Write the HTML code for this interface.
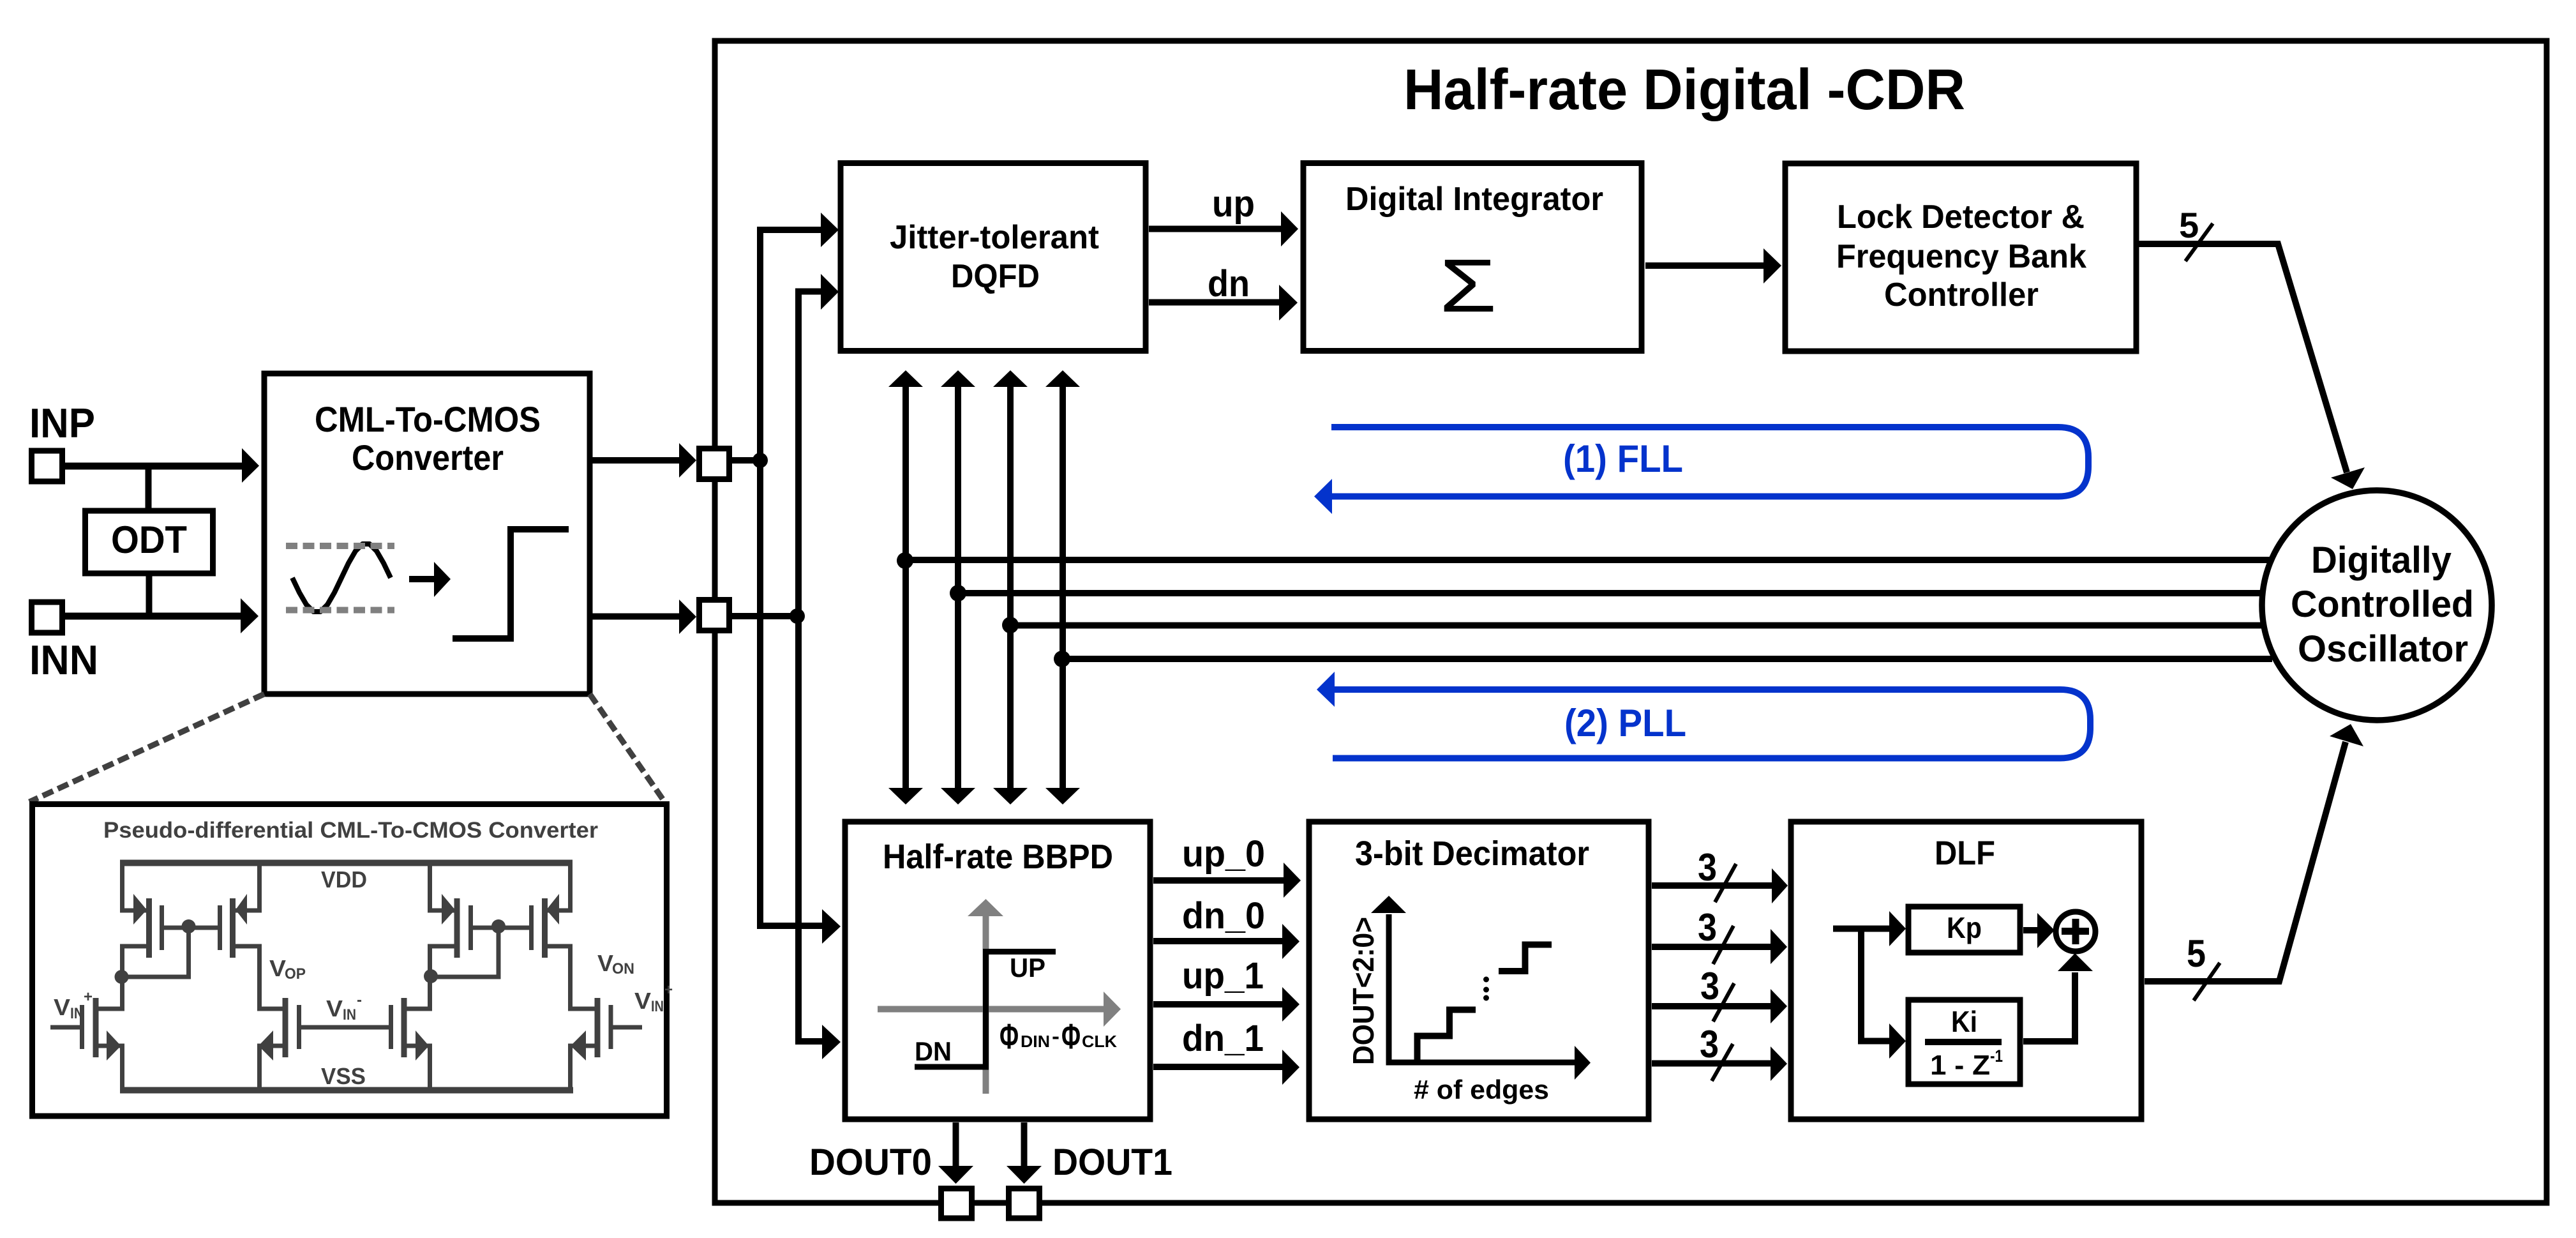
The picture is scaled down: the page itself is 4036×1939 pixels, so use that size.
<!DOCTYPE html>
<html><head><meta charset="utf-8"><style>
html,body{margin:0;padding:0;background:#fff;width:4036px;height:1939px;overflow:hidden}
svg{display:block}
text{font-family:"Liberation Sans",sans-serif;font-weight:bold;fill:#000}
.s text{fill:#404040}
</style></head><body>
<svg xmlns="http://www.w3.org/2000/svg" width="4036" height="1939" viewBox="0 0 4036 1939">
<rect width="4036" height="1939" fill="#fff"/>
<!-- main box -->
<rect x="1120" y="64" width="2870" height="1820" fill="none" stroke="#000" stroke-width="9"/>
<text x="2199" y="171" font-size="90" textLength="880" lengthAdjust="spacingAndGlyphs">Half-rate Digital -CDR</text>

<g fill="none" stroke="#000" stroke-width="9" stroke-linejoin="miter">
<!-- input section -->
<rect x="49.5" y="706" width="48" height="48"/>
<rect x="49.5" y="943" width="48" height="48"/>
<path d="M102 730H380" stroke-width="11"/>
<path d="M102 965H378" stroke-width="11"/>
<path d="M232.500 730V800M233.500 898V965" stroke-width="10"/>
<rect x="133.500" y="800" width="200" height="98"/>
<rect x="414" y="585" width="510" height="502"/>
<path d="M928 721H1066M928 965.500H1066" stroke-width="10"/>
<!-- internal trunks -->
<path d="M1140 721H1191M1140 965H1249" stroke-width="10"/>
<path d="M1288 360H1191V1450H1290" stroke-width="10"/>
<path d="M1288 456.500H1251V1631H1290" stroke-width="10"/>
<!-- blocks -->
<rect x="1317" y="255.500" width="478" height="294"/>
<rect x="2042" y="255.500" width="530" height="294"/>
<rect x="2797" y="256" width="550" height="294"/>
<rect x="1324" y="1287" width="478" height="466"/>
<rect x="2051" y="1287" width="532" height="466"/>
<rect x="2806" y="1287" width="549" height="466"/>
<!-- top arrows -->
<path d="M1800 358.500H2010M1800 473.500H2007" stroke-width="10"/>
<path d="M2578 416H2765" stroke-width="10"/>
<!-- bus -->
<path d="M1419 606V1236M1501 606V1236M1583 606V1236M1665 606V1236" stroke-width="10"/>
<path d="M1418 877H3560M1501 929H3550M1583 979.500H3550M1664 1032H3560" stroke-width="10"/>
<!-- BBPD outputs -->
<path d="M1807 1379H2013M1807 1474H2011M1807 1573H2011M1807 1671H2011" stroke-width="10"/>
<path d="M1497.500 1758V1828M1604.500 1758V1828" stroke-width="10"/>
<!-- decimator outputs -->
<path d="M2588 1387H2778M2588 1483H2776M2588 1576H2776M2588 1665.500H2776" stroke-width="10"/>
<path d="M2720 1353L2687 1413M2716 1450L2684 1510M2717 1540L2684 1600M2715 1635L2682 1693" stroke-width="6"/>
<!-- DLF -->
<path d="M2872 1454.500H2962" stroke-width="10"/>
<path d="M2916 1454.500V1630.500H2962" stroke-width="10"/>
<path d="M3170 1457H3194" stroke-width="10"/>
<path d="M3170 1631H3251V1523" stroke-width="10"/>
<rect x="2990" y="1420" width="175" height="72"/>
<rect x="2990" y="1566" width="175" height="132"/>
<circle cx="3252" cy="1459" r="31"/>
<!-- outputs to DCO -->
<path d="M3351 382H3569L3677 740" stroke-width="10"/>
<path d="M3360 1537H3571L3675 1162" stroke-width="10"/>
<path d="M3467 350L3424 409M3478 1508L3437 1567" stroke-width="6"/>
<!-- DCO -->
<circle cx="3724" cy="948" r="180" fill="#fff" stroke-width="9.500"/>
</g>
<rect x="3016" y="1627" width="120" height="10"/>
<rect x="3246.500" y="1439" width="11" height="40"/>
<rect x="3230" y="1453" width="43" height="11"/>

<!-- wave etc -->
<polyline points="458,905 469,928 480,947 491,958 502,958 513,947 524,928 535,905 546,882 557,863 568,852 579,852 590,863 601,882 612,905" fill="none" stroke="#000" stroke-width="8" stroke-linejoin="round"/>
<path d="M448 855H618M448 955.500H618" fill="none" stroke="#808080" stroke-width="10" stroke-dasharray="18 8.500"/>
<path d="M641 907H682" stroke="#000" stroke-width="10"/>
<path d="M709 1000H800V829H891" fill="none" stroke="#000" stroke-width="10"/>

<!-- arrowheads -->
<g fill="#000">
<polygon points="379,702 406,729.500 379,756"/>
<polygon points="377,937 405,965 377,992"/>
<polygon points="680,880 706,907 680,935"/>
<polygon points="1064,694 1091,721 1064,748"/>
<polygon points="1064,939 1091,966 1064,993"/>
<polygon points="1286,333 1314,360 1286,387"/>
<polygon points="1286,429 1314,457 1286,485"/>
<polygon points="1288,1424 1317,1451 1288,1478"/>
<polygon points="1288,1605 1317,1632 1288,1659"/>
<polygon points="2007,331 2034,358.500 2007,386"/>
<polygon points="2004,446 2033,474 2004,502"/>
<polygon points="2763,389 2791,416 2763,444"/>
<polygon points="1392,606 1419,580 1446,606"/><polygon points="1474,606 1501,580 1528,606"/><polygon points="1556,606 1583,580 1610,606"/><polygon points="1638,606 1665,580 1692,606"/>
<polygon points="1392,1234 1419,1260 1446,1234"/><polygon points="1474,1234 1501,1260 1528,1234"/><polygon points="1556,1234 1583,1260 1610,1234"/><polygon points="1638,1234 1665,1260 1692,1234"/>
<polygon points="2011,1351 2038,1379 2011,1406"/>
<polygon points="2009,1447 2036,1474.500 2009,1502"/>
<polygon points="2009,1546 2036,1573 2009,1600"/>
<polygon points="2009,1644 2036,1671.500 2009,1699"/>
<polygon points="1470,1826 1525,1826 1497.500,1854"/>
<polygon points="1577,1826 1632,1826 1604.500,1854"/>
<polygon points="2776,1360 2801,1387 2776,1415"/>
<polygon points="2774,1455 2800,1483 2774,1510"/>
<polygon points="2774,1549 2800,1576 2774,1603"/>
<polygon points="2774,1639 2800,1666 2774,1693"/>
<polygon points="2960,1427 2986,1454.500 2960,1482"/>
<polygon points="2960,1603 2986,1630.500 2960,1658"/>
<polygon points="3192,1430 3219,1457 3192,1485"/>
<polygon points="3224,1521 3251,1493 3279,1521"/>
<polygon points="3652,748 3686,766 3705,732"/>
<polygon points="3650,1153 3683,1134 3703,1169"/>
</g>

<!-- BBPD graph -->
<path d="M1544.500 1713V1433M1375 1580.500H1731" fill="none" stroke="#808080" stroke-width="10"/>
<polygon points="1516,1435 1544.500,1408 1572,1435" fill="#808080"/>
<polygon points="1729,1553 1756,1580.500 1729,1608" fill="#808080"/>
<path d="M1433 1671H1544.500V1490.500H1654" fill="none" stroke="#000" stroke-width="9"/>

<!-- decimator graph -->
<path d="M2176 1432V1664H2469" fill="none" stroke="#000" stroke-width="9"/>
<polygon points="2148,1430 2176,1403 2203,1430"/>
<polygon points="2467,1638 2492,1664.500 2467,1691"/>
<path d="M2220.500 1664V1622.500H2271V1581.500H2312M2348 1521H2389.500V1479.500H2431" fill="none" stroke="#000" stroke-width="10"/>
<circle cx="2328.500" cy="1534" r="4.500"/><circle cx="2328.500" cy="1550" r="4.500"/><circle cx="2328.500" cy="1563" r="4.500"/>

<!-- pads -->
<g fill="#fff" stroke="#000" stroke-width="9">
<rect x="1095.500" y="702.500" width="47" height="48"/>
<rect x="1095.500" y="939.500" width="47" height="48"/>
<rect x="1474.500" y="1861.500" width="48" height="46.500"/>
<rect x="1580.500" y="1861.500" width="48" height="46.500"/>
</g>
<!-- dots -->
<circle cx="1191" cy="721" r="12"/><circle cx="1249" cy="965" r="12"/>
<circle cx="1418" cy="878" r="13"/><circle cx="1501" cy="929" r="13"/><circle cx="1583" cy="979" r="13"/><circle cx="1664" cy="1032" r="13"/>

<!-- blue loops -->
<g fill="none" stroke="#0433cc" stroke-width="10">
<path d="M2086 669H3225Q3272 669 3272 716V730.500Q3272 777.500 3225 777.500H2085"/>
<path d="M2088 1080H3228Q3275 1080 3275 1127V1140.500Q3275 1187.500 3228 1187.500H2088"/>
</g>
<polygon points="2087,750 2059,777.500 2087,805" fill="#0433cc"/>
<polygon points="2091,1052 2063,1080 2091,1107" fill="#0433cc"/>
<text x="2449" y="739" font-size="60" textLength="188" lengthAdjust="spacingAndGlyphs" style="fill:#0433cc">(1) FLL</text>
<text x="2451" y="1153" font-size="60" textLength="191" lengthAdjust="spacingAndGlyphs" style="fill:#0433cc">(2) PLL</text>

<!-- dashed zoom lines -->
<path d="M414 1087L46 1256M924 1087L1040 1254" fill="none" stroke="#404040" stroke-width="9" stroke-dasharray="18 8"/>

<!-- schematic box -->
<rect x="50.500" y="1259.500" width="994" height="488.500" fill="#fff" stroke="#000" stroke-width="9"/>
<text x="162" y="1312" font-size="35" textLength="775" lengthAdjust="spacingAndGlyphs" style="fill:#404040">Pseudo-differential CML-To-CMOS Converter</text>
<g class="s">
<g fill="none" stroke="#404040" stroke-width="7">
<path d="M188 1351.500H897M188 1707.500H898" stroke-width="10"/>
<path d="M191.500 1351V1426H233M406.500 1351V1426H365M673.500 1351V1426H716M893.500 1351V1426H853"/>
<path d="M233 1482H191.500V1580H150M365 1482H406.500V1580H447M716 1482H673.500V1580H633M853.500 1482H893.500V1580H936"/>
<path d="M150 1638H191.500V1707M447 1638H406.500V1707M633 1638H673.500V1707M936 1638H893.500V1707"/>
<path d="M233.500 1407V1500M364.500 1407V1500M716 1407V1500M853.500 1407V1500M150 1563V1656M447 1563V1656M633 1563V1656M936 1563V1656" stroke-width="9"/>
<path d="M253.500 1418V1488M344.500 1418V1488M737.500 1418V1488M832.500 1418V1488M128.500 1574V1643M468.500 1574V1643M612.500 1574V1643M957 1574V1643"/>
<path d="M253 1453H345M737 1453H833M79 1609H128M468 1609H613M957 1609H1006"/>
<path d="M295.500 1453V1530H191M781 1453V1530H674"/>
</g>
<g fill="#404040">
<polygon points="209,1400 230,1425 209,1448"/><polygon points="387,1400 369,1425 387,1448"/>
<polygon points="692,1400 713,1425 692,1448"/><polygon points="876,1400 856,1425 876,1448"/>
<polygon points="167,1614 189.500,1638 167,1661"/><polygon points="428,1614 405,1638 428,1661"/>
<polygon points="651,1614 672,1638 651,1661"/><polygon points="918,1614 894,1638 918,1661"/>
<circle cx="295.500" cy="1451" r="11"/><circle cx="781" cy="1451" r="11"/>
<circle cx="190.500" cy="1530" r="11"/><circle cx="675" cy="1529" r="11"/>
</g>
<text x="503" y="1390" font-size="36" textLength="72" lengthAdjust="spacingAndGlyphs">VDD</text>
<text x="503" y="1698" font-size="36" textLength="70" lengthAdjust="spacingAndGlyphs">VSS</text>
<text x="422" y="1529" font-size="36" textLength="26" lengthAdjust="spacingAndGlyphs">V</text>
<text x="446" y="1533" font-size="24" textLength="33" lengthAdjust="spacingAndGlyphs">OP</text>
<text x="936" y="1521" font-size="36" textLength="25" lengthAdjust="spacingAndGlyphs">V</text>
<text x="959" y="1525" font-size="24" textLength="35" lengthAdjust="spacingAndGlyphs">ON</text>
<text x="84" y="1590" font-size="36" textLength="26" lengthAdjust="spacingAndGlyphs">V</text>
<text x="110" y="1595" font-size="24" textLength="21" lengthAdjust="spacingAndGlyphs">IN</text>
<text x="131" y="1569" font-size="24" textLength="14" lengthAdjust="spacingAndGlyphs">+</text>
<text x="511" y="1592" font-size="36" textLength="26" lengthAdjust="spacingAndGlyphs">V</text>
<text x="537" y="1597" font-size="24" textLength="21" lengthAdjust="spacingAndGlyphs">IN</text>
<text x="559" y="1574" font-size="24" textLength="8" lengthAdjust="spacingAndGlyphs">-</text>
<text x="994" y="1580" font-size="36" textLength="26" lengthAdjust="spacingAndGlyphs">V</text>
<text x="1020" y="1584" font-size="24" textLength="20" lengthAdjust="spacingAndGlyphs">IN</text>
<text x="1041" y="1558" font-size="24" textLength="13" lengthAdjust="spacingAndGlyphs">+</text>
</g>

<!-- labels -->
<text x="46" y="685" font-size="65" textLength="103" lengthAdjust="spacingAndGlyphs">INP</text>
<text x="46" y="1056" font-size="65" textLength="108" lengthAdjust="spacingAndGlyphs">INN</text>
<text x="174" y="866" font-size="60" textLength="119" lengthAdjust="spacingAndGlyphs">ODT</text>
<text x="493" y="676" font-size="56" textLength="354" lengthAdjust="spacingAndGlyphs">CML-To-CMOS</text>
<text x="551" y="736" font-size="56" textLength="238" lengthAdjust="spacingAndGlyphs">Converter</text>
<text x="1394" y="389" font-size="52" textLength="328" lengthAdjust="spacingAndGlyphs">Jitter-tolerant</text>
<text x="1490" y="450" font-size="52" textLength="139" lengthAdjust="spacingAndGlyphs">DQFD</text>
<text x="1899" y="339" font-size="58" textLength="67" lengthAdjust="spacingAndGlyphs">up</text>
<text x="1892" y="464" font-size="58" textLength="66" lengthAdjust="spacingAndGlyphs">dn</text>
<text x="2108" y="329" font-size="52" textLength="404" lengthAdjust="spacingAndGlyphs">Digital Integrator</text>
<text x="2255" y="488" font-size="118" textLength="90" lengthAdjust="spacingAndGlyphs" style="font-weight:normal">Σ</text>
<text x="2878" y="357" font-size="52" textLength="388" lengthAdjust="spacingAndGlyphs">Lock Detector &amp;</text>
<text x="2877" y="419" font-size="52" textLength="392" lengthAdjust="spacingAndGlyphs">Frequency Bank</text>
<text x="2952" y="479" font-size="52" textLength="242" lengthAdjust="spacingAndGlyphs">Controller</text>
<text x="3414" y="372" font-size="56">5</text>
<text x="3621" y="897" font-size="58" textLength="220" lengthAdjust="spacingAndGlyphs">Digitally</text>
<text x="3589" y="966" font-size="58" textLength="287" lengthAdjust="spacingAndGlyphs">Controlled</text>
<text x="3600" y="1036" font-size="58" textLength="267" lengthAdjust="spacingAndGlyphs">Oscillator</text>
<text x="1383" y="1360" font-size="54" textLength="361" lengthAdjust="spacingAndGlyphs">Half-rate BBPD</text>
<text x="1852" y="1357" font-size="58" textLength="130" lengthAdjust="spacingAndGlyphs">up_0</text>
<text x="1852" y="1454" font-size="58" textLength="130" lengthAdjust="spacingAndGlyphs">dn_0</text>
<text x="1852" y="1548" font-size="58" textLength="128" lengthAdjust="spacingAndGlyphs">up_1</text>
<text x="1852" y="1646" font-size="58" textLength="128" lengthAdjust="spacingAndGlyphs">dn_1</text>
<text x="1582" y="1530" font-size="42" textLength="56" lengthAdjust="spacingAndGlyphs">UP</text>
<text x="1433" y="1661" font-size="42" textLength="58" lengthAdjust="spacingAndGlyphs">DN</text>
<text x="1566" y="1642" font-size="56" textLength="30" lengthAdjust="spacingAndGlyphs">Φ</text>
<text x="1599" y="1640" font-size="26" textLength="46" lengthAdjust="spacingAndGlyphs">DIN</text>
<text x="1648" y="1634" font-size="32" textLength="12" lengthAdjust="spacingAndGlyphs">-</text>
<text x="1663" y="1642" font-size="56" textLength="30" lengthAdjust="spacingAndGlyphs">Φ</text>
<text x="1695" y="1640" font-size="26" textLength="55" lengthAdjust="spacingAndGlyphs">CLK</text>
<text x="2123" y="1355" font-size="54" textLength="367" lengthAdjust="spacingAndGlyphs">3-bit Decimator</text>
<text transform="translate(2152 1668) rotate(-90)" font-size="46" textLength="232" lengthAdjust="spacingAndGlyphs">DOUT&lt;2:0&gt;</text>
<text x="2215" y="1721" font-size="42" textLength="212" lengthAdjust="spacingAndGlyphs"># of edges</text>
<text x="3031" y="1354" font-size="53" textLength="95" lengthAdjust="spacingAndGlyphs">DLF</text>
<text x="3050" y="1469" font-size="46" textLength="55" lengthAdjust="spacingAndGlyphs">Kp</text>
<text x="3057" y="1616" font-size="46" textLength="41" lengthAdjust="spacingAndGlyphs">Ki</text>
<text x="3024" y="1683" font-size="44" textLength="94" lengthAdjust="spacingAndGlyphs">1 - Z</text>
<text x="3118" y="1663" font-size="27" textLength="20" lengthAdjust="spacingAndGlyphs">-1</text>
<text x="2660" y="1379" font-size="60" textLength="30" lengthAdjust="spacingAndGlyphs">3</text>
<text x="2660" y="1473" font-size="60" textLength="30" lengthAdjust="spacingAndGlyphs">3</text>
<text x="2664" y="1565" font-size="60" textLength="30" lengthAdjust="spacingAndGlyphs">3</text>
<text x="2663" y="1656" font-size="60" textLength="30" lengthAdjust="spacingAndGlyphs">3</text>
<text x="3426" y="1514" font-size="60" textLength="30" lengthAdjust="spacingAndGlyphs">5</text>
<text x="1268" y="1840" font-size="58" textLength="192" lengthAdjust="spacingAndGlyphs">DOUT0</text>
<text x="1649" y="1840" font-size="58" textLength="188" lengthAdjust="spacingAndGlyphs">DOUT1</text>
</svg>
</body></html>
